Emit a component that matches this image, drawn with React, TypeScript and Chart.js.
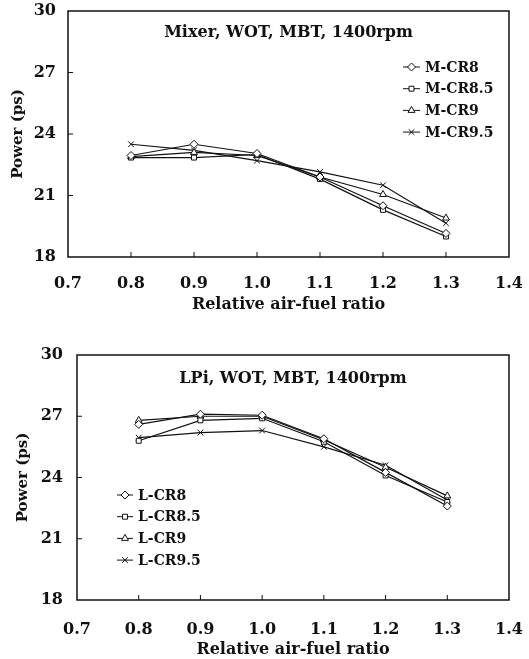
import React, { useEffect, useRef } from 'react';
import { Chart, registerables } from 'chart.js';
import { drawPoint } from 'chart.js/helpers';

Chart.register(...registerables);

const xValues = [0.8, 0.9, 1.0, 1.1, 1.2, 1.3];
const yTickStep = 3;
const yMin = 18;
const yMax = 30;
const xMin = 0.7;
const xMax = 1.4;

const mixerTitle = 'Mixer, WOT, MBT, 1400rpm';
const mixerLabels = ['M-CR8', 'M-CR8.5', 'M-CR9', 'M-CR9.5'];
const mCR8 = [22.95, 23.5, 23.05, 21.9, 20.5, 19.15];
const mCR85 = [22.85, 22.85, 23.0, 21.8, 20.3, 19.0];
const mCR9 = [22.9, 23.1, 22.95, 21.9, 21.05, 19.9];
const mCR95 = [23.5, 23.2, 22.7, 22.15, 21.5, 19.65];

const lpiTitle = 'LPi, WOT, MBT, 1400rpm';
const lpiLabels = ['L-CR8', 'L-CR8.5', 'L-CR9', 'L-CR9.5'];
const lCR8 = [26.6, 27.1, 27.05, 25.9, 24.25, 22.6];
const lCR85 = [25.8, 26.8, 26.9, 25.75, 24.1, 22.8];
const lCR9 = [26.8, 27.0, 27.0, 25.85, 24.5, 23.1];
const lCR95 = [25.95, 26.2, 26.3, 25.5, 24.6, 22.9];

const xTitle = 'Relative air-fuel ratio';
const yTitle = 'Power (ps)';

const pointStyles = ['rectRot', 'rect', 'triangle', 'crossRot'];
const pointRadii = [4, 3.5, 4, 4];

const FONT = '"DejaVu Serif", serif';
const INK = '#111';

const decorPlugin = {
  id: 'decor',
  afterDraw(chart: any, _args: any, opts: any) {
    const { ctx, chartArea } = chart;
    const xs = chart.scales.x;
    const ys = chart.scales.y;
    ctx.save();
    ctx.strokeStyle = INK;
    ctx.lineWidth = 1.5;
    ctx.strokeRect(chartArea.left, chartArea.top, chartArea.right - chartArea.left, chartArea.bottom - chartArea.top);
    ctx.lineWidth = 1;
    xs.ticks.forEach((t: any) => {
      const px = xs.getPixelForValue(t.value);
      if (px <= chartArea.left + 2 || px >= chartArea.right - 2) return;
      ctx.beginPath();
      ctx.moveTo(px, chartArea.bottom);
      ctx.lineTo(px, chartArea.bottom - 5);
      ctx.stroke();
    });
    ys.ticks.forEach((t: any) => {
      const py = ys.getPixelForValue(t.value);
      if (py <= chartArea.top + 2 || py >= chartArea.bottom - 2) return;
      ctx.beginPath();
      ctx.moveTo(chartArea.left, py);
      ctx.lineTo(chartArea.left + 5, py);
      ctx.stroke();
    });
    ctx.fillStyle = INK;
    ctx.font = `bold ${opts.titleSize}px ${FONT}`;
    ctx.textAlign = 'center';
    ctx.textBaseline = 'middle';
    ctx.fillText(opts.title, (chartArea.left + chartArea.right) / 2 + (opts.titleDx || 0), chartArea.top + opts.titleDy);
    ctx.font = `bold ${opts.legendSize}px ${FONT}`;
    ctx.textAlign = 'left';
    chart.data.datasets.forEach((ds: any, i: number) => {
      const y = opts.legendY + i * opts.legendDy;
      const x0 = opts.legendX;
      const x1 = x0 + opts.legendLen;
      ctx.strokeStyle = INK;
      ctx.lineWidth = 1;
      ctx.beginPath();
      ctx.moveTo(x0, y);
      ctx.lineTo(x1, y);
      ctx.stroke();
      ctx.fillStyle = '#fff';
      ctx.strokeStyle = INK;
      drawPoint(ctx, { pointStyle: ds.pointStyle, radius: ds.pointRadius, borderWidth: 1, rotation: 0 }, (x0 + x1) / 2, y);
      ctx.fillStyle = INK;
      ctx.fillText(ds.label, opts.legendTextX, y + 1);
    });
    ctx.restore();
  },
};

function makeDatasets(labels: string[], series: number[][]) {
  return series.map((vals, i) => ({
    label: labels[i],
    data: vals.map((v, j) => ({ x: xValues[j], y: v })),
    borderColor: INK,
    borderWidth: 1.2,
    backgroundColor: '#fff',
    pointStyle: pointStyles[i],
    pointRadius: pointRadii[i],
    pointBorderColor: INK,
    pointBackgroundColor: '#fff',
    pointBorderWidth: 1,
    tension: 0,
  }));
}

type PanelProps = {
  top: number;
  height: number;
  labels: string[];
  series: number[][];
  padTop: number;
  padBottom: number;
  yWidth: number;
  xHeight: number;
  yTitlePad: number;
  yTickPad: number;
  xTickPad: number;
  xTitlePad: number;
  decor: any;
};

function Panel(p: PanelProps) {
  const ref = useRef<HTMLCanvasElement>(null);
  useEffect(() => {
    const chart = new Chart(ref.current as HTMLCanvasElement, {
      type: 'line',
      data: { datasets: makeDatasets(p.labels, p.series) as any },
      options: {
        animation: false,
        responsive: false,
        maintainAspectRatio: false,
        layout: { padding: { left: 0, right: 20, top: p.padTop, bottom: p.padBottom } },
        plugins: {
          legend: { display: false },
          tooltip: { enabled: false },
          decor: p.decor,
        } as any,
        scales: {
          x: {
            type: 'linear',
            min: xMin,
            max: xMax,
            afterFit: (s: any) => { s.height = p.xHeight; s.paddingLeft = 0; s.paddingRight = 0; },
            border: { display: false },
            grid: { display: false, drawTicks: false },
            ticks: {
              stepSize: 0.1,
              color: INK,
              padding: p.xTickPad,
              font: { family: FONT, size: 16, weight: 'bold' },
              callback: (v: any) => Number(v).toFixed(1),
            },
            title: {
              display: true,
              text: xTitle,
              color: INK,
              font: { family: FONT, size: 16, weight: 'bold' },
              padding: { top: 0, bottom: p.xTitlePad },
            },
          },
          y: {
            min: yMin,
            max: yMax,
            afterFit: (s: any) => { s.width = p.yWidth; s.paddingTop = 0; s.paddingBottom = 0; },
            border: { display: false },
            grid: { display: false, drawTicks: false },
            ticks: {
              stepSize: yTickStep,
              color: INK,
              padding: p.yTickPad,
              font: { family: FONT, size: 16, weight: 'bold' },
            },
            title: {
              display: true,
              text: yTitle,
              color: INK,
              font: { family: FONT, size: 15, weight: 'bold' },
              padding: { top: p.yTitlePad, bottom: 0 },
            },
          },
        },
      } as any,
      plugins: [decorPlugin],
    });
    return () => chart.destroy();
  }, []);
  return (
    <canvas
      ref={ref}
      width={529}
      height={p.height}
      style={{ position: 'absolute', left: 0, top: p.top, width: 529, height: p.height }}
    />
  );
}

export default function App() {
  return (
    <div style={{ position: 'absolute', left: 0, top: 0, width: 529, height: 659, background: '#fff' }}>
      <Panel
        top={0}
        height={320}
        labels={mixerLabels}
        series={[mCR8, mCR85, mCR9, mCR95]}
        padTop={11}
        padBottom={3}
        yWidth={68}
        xHeight={60}
        yTitlePad={9}
        yTickPad={12}
        xTickPad={17}
        xTitlePad={3}
        decor={{
          title: mixerTitle, titleSize: 16, titleDy: 22,
          legendSize: 14, legendX: 403, legendLen: 17, legendTextX: 425, legendY: 67, legendDy: 21.7,
        }}
      />
      <Panel
        top={330}
        height={329}
        labels={lpiLabels}
        series={[lCR8, lCR85, lCR9, lCR95]}
        padTop={25}
        padBottom={0}
        yWidth={77}
        xHeight={59}
        yTitlePad={14}
        yTickPad={14}
        xTickPad={20}
        xTitlePad={0}
        decor={{
          title: lpiTitle, titleSize: 16, titleDy: 24,
          legendSize: 14, legendX: 117, legendLen: 16, legendTextX: 138, legendY: 165, legendDy: 21.7,
        }}
      />
    </div>
  );
}
